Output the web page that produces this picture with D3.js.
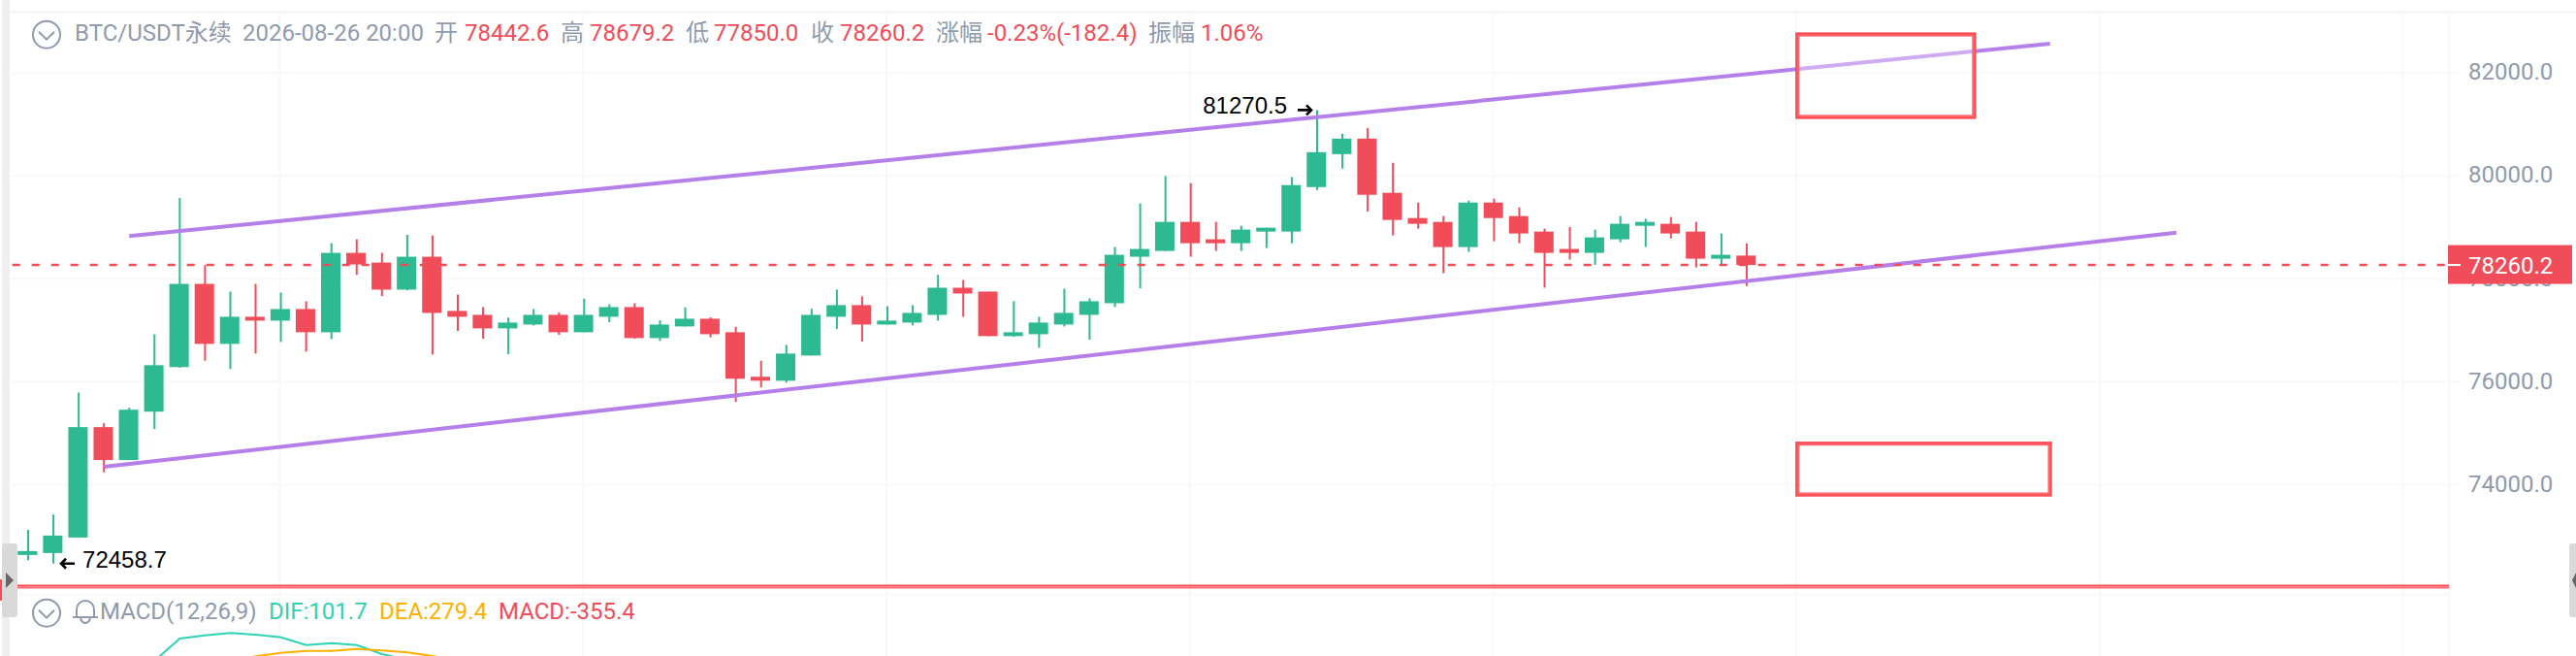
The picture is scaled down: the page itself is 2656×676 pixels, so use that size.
<!DOCTYPE html>
<html>
<head>
<meta charset="utf-8">
<title>BTC/USDT</title>
<script src="https://cdnjs.cloudflare.com/ajax/libs/d3/7.8.5/d3.min.js"></script>
<style>
  html, body { margin: 0; padding: 0; background: #fff; overflow: hidden; }
  text { font-family: Roboto, "Noto Sans CJK SC", sans-serif; font-size: 24px; }
</style>
</head>
<body>
<div id="chart"></div>
<script>
const opens = [72627,72664,72965,75110,74470,75410,76276,77893,76727,77254,77179,77404,76953,78495,78307,77781,78420,77367,77291,77028,77103,77291,76953,77254,77442,76840,77066,77216,76953,76088,76012,76501,77254,77480,77103,77141,77291,77818,77743,76878,76915,77103,77291,77517,78420,78533,79097,78759,78683,78909,78909,79774,80414,80715,79662,79172,79097,78608,79473,79210,78909,78571,78495,78759,79022,79060,78909,78382,78442.6];
const highs = [73116,73410,75780,75185,75486,76915,79561,78257,77743,77893,77724,77555,78683,78759,78495,78846,78834,77686,77442,77235,77404,77335,77605,77498,77517,77185,77436,77241,77060,76401,76708,77411,77781,77649,77461,77480,78069,77969,77743,77555,77254,77799,77611,78608,79455,79988,79850,79097,79022,78984,79969,81270.5,80809,80922,80245,79473,79210,79511,79549,79379,78966,78997,78947,79210,79160,79191,79097,78872,78679.2];
const lows = [72526,72458.7,72965,74232,74470,75072,76263,76401,76238,76539,76765,76577,76821,78069,77655,77768,76520,76978,76828,76527,77085,76903,76953,77147,76828,76784,77066,76853,75599,75881,75975,76501,77016,76771,77103,77085,77179,77254,76878,76865,76652,77066,76809,77442,77806,78533,78420,78533,78533,78589,78683,79718,80132,79298,78834,78966,78100,78514,78721,78683,77818,78364,78263,78702,78608,78777,78213,78263,77850];
const closes = [72702,73003,75110,74470,75448,76313,77893,76727,77254,77179,77404,76953,78495,78270,77781,78420,77329,77254,77028,77141,77291,76953,77291,77442,76840,77103,77216,76915,76050,76012,76539,77291,77480,77103,77179,77329,77818,77705,76878,76953,77141,77329,77555,78458,78571,79097,78683,78683,78947,78984,79812,80452,80715,79624,79135,79060,78608,79473,79172,78872,78495,78495,78796,79060,79097,78872,78382,78458,78260.2];

const priceTicks = [74000, 76000, 78000, 80000, 82000];
const timeGrid = [10, 22, 34, 46, 58, 70, 82, 94];
const lastPrice = 78260.2;
const supportPrice = 72012;

// trend lines and boxes, as [candle index, price]
const upperLine = [[4, 78820], [80, 82559]];
const lowerLine = [[3, 74338], [85, 78890]];
const boxA = [[70, 82741], [77, 81134]];
const boxB = [[70, 74790], [80, 73798]];

// MACD pane
const difStart = 5;
const difValues = [380, 840, 906, 954, 920, 866, 706, 746, 706, 520, 400];
const deaStart = 8;
const deaValues = [360, 474, 546, 586, 586, 626, 594, 554, 480, 380];

const headerText = ["BTC/USDT永续", "2026-08-26 20:00", "开", "78442.6", "高", "78679.2", "低", "77850.0", "收", "78260.2", "涨幅", "-0.23%(-182.4)", "振幅", "1.06%"];
const macdText = ["MACD(12,26,9)", "DIF:101.7", "DEA:279.4", "MACD:-355.4"];

const width = 2656, height = 676;
const green = "#2dba92", red = "#f04c59", grey = "#8f9bac", gridColor = "#f7f8f9", purple = "#b57fea";
const axisX = 2525;

const x = d3.scaleLinear().domain([0, 68]).range([29, 1801]);
const y = d3.scaleLinear().domain([74000, 82000]).range([499, 74.7]);
const yMacd = d3.scaleLinear().domain([0, 2000]).range([700, 600]);

const svg = d3.select("#chart").append("svg")
  .attr("width", width)
  .attr("height", height)
  .style("display", "block");

// grid
const timeAxis = d3.axisBottom(x).tickValues(timeGrid).tickSize(-662).tickFormat("");
svg.append("g")
  .attr("transform", `translate(-1.5,${height})`)
  .call(timeAxis)
  .call(g => g.select(".domain").remove())
  .selectAll("line").attr("stroke", gridColor).attr("stroke-width", 2);

const priceAxis = d3.axisRight(y).tickValues(priceTicks).tickSize(-2524).tickPadding(9).tickFormat(d3.format(".1f"));
svg.append("g")
  .attr("transform", "translate(2536,0)")
  .call(priceAxis)
  .call(g => g.select(".domain").remove())
  .call(g => g.selectAll("line").attr("stroke", gridColor).attr("stroke-width", 2))
  .call(g => g.selectAll("text").attr("fill", grey).style("font-size", "24px").attr("dy", "0.3em"));

svg.append("line").attr("x1", 10).attr("x2", width).attr("y1", 12.5).attr("y2", 12.5).attr("stroke", "#f2f2f2").attr("stroke-width", 2);
svg.append("line").attr("x1", 10).attr("x2", axisX).attr("y1", 612.5).attr("y2", 612.5).attr("stroke", gridColor).attr("stroke-width", 2);
svg.append("line").attr("x1", axisX).attr("x2", axisX).attr("y1", 14).attr("y2", height).attr("stroke", gridColor).attr("stroke-width", 2);
svg.append("rect").attr("x", 2).attr("y", 0).attr("width", 8).attr("height", height).attr("fill", "#efefef");

// candles
const candles = d3.range(opens.length);
const candle = svg.selectAll(".candle").data(candles).enter().append("g").attr("class", "candle");
const candleColor = i => closes[i] >= opens[i] ? green : red;

candle.append("line")
  .attr("x1", i => x(i)).attr("x2", i => x(i))
  .attr("y1", i => y(highs[i])).attr("y2", i => y(lows[i]))
  .attr("stroke", candleColor)
  .attr("stroke-width", 2);

candle.append("rect")
  .attr("x", i => x(i) - 10.7)
  .attr("width", 20)
  .attr("y", i => y(Math.max(opens[i], closes[i])))
  .attr("height", i => Math.max(4, Math.abs(y(opens[i]) - y(closes[i]))))
  .attr("fill", candleColor);

// trend lines
const pen = d3.line().x(d => x(d[0])).y(d => y(d[1]));
[upperLine, lowerLine].forEach(l => {
  svg.append("path").attr("d", pen(l)).attr("fill", "none").attr("stroke", purple).attr("stroke-width", 4);
});

// boxes: translucent white fill, dark outer edge, lighter inner edge
[boxA, boxB].forEach(b => {
  const bx = x(b[0][0]), by = y(b[0][1]), bw = x(b[1][0]) - bx, bh = y(b[1][1]) - by;
  svg.append("rect").attr("x", bx).attr("y", by).attr("width", bw).attr("height", bh)
    .attr("fill", "rgba(255,255,255,0.35)").attr("stroke", "#ff4a52").attr("stroke-width", 4);
  svg.append("rect").attr("x", bx + 1).attr("y", by + 1).attr("width", bw - 2).attr("height", bh - 2)
    .attr("fill", "none").attr("stroke", "#ff666e").attr("stroke-width", 2);
});

// support line
svg.append("line").attr("x1", 18).attr("x2", axisX).attr("y1", y(supportPrice) - 1).attr("y2", y(supportPrice) - 1).attr("stroke", "#ff4a52").attr("stroke-width", 2);
svg.append("line").attr("x1", 18).attr("x2", axisX).attr("y1", y(supportPrice) + 1).attr("y2", y(supportPrice) + 1).attr("stroke", "#ff6a72").attr("stroke-width", 2);

// last price
svg.append("line").attr("x1", 12.7).attr("x2", axisX).attr("y1", y(lastPrice)).attr("y2", y(lastPrice))
  .attr("stroke", red).attr("stroke-width", 2.4).attr("stroke-dasharray", "8 12");
svg.append("rect").attr("x", axisX - 1).attr("y", y(lastPrice) - 20.5).attr("width", 128).attr("height", 40).attr("fill", red);
svg.append("line").attr("x1", axisX - 1).attr("x2", 2537).attr("y1", y(lastPrice)).attr("y2", y(lastPrice)).attr("stroke", "#fff").attr("stroke-width", 2);
svg.append("text").attr("x", 2545).attr("y", y(lastPrice)).attr("dy", "0.36em").attr("fill", "#fff").text(d3.format(".1f")(lastPrice));

// high and low marks
const arrow = (x1, x2, yy) => {
  const dir = x2 > x1 ? -1 : 1;
  svg.append("path")
    .attr("d", `M${x1},${yy}L${x2},${yy}M${x2 + dir * 5},${yy - 5}L${x2},${yy}L${x2 + dir * 5},${yy + 5}`)
    .attr("fill", "none").attr("stroke", "#000").attr("stroke-width", 2.6);
};
const lowIdx = d3.leastIndex(lows), highIdx = d3.greatestIndex(highs);
arrow(x(lowIdx) + 22, x(lowIdx) + 8, y(lows[lowIdx]));
arrow(x(highIdx) - 20, x(highIdx) - 6, y(highs[highIdx]));
svg.append("text").attr("x", x(lowIdx) + 30).attr("y", y(lows[lowIdx]) + 4).attr("fill", "#000")
  .style("font-family", "'Liberation Sans'").text(lows[lowIdx]);
svg.append("text").attr("x", x(highIdx) - 31).attr("y", y(highs[highIdx]) + 4).attr("text-anchor", "end").attr("fill", "#000")
  .style("font-family", "'Liberation Sans'").text(highs[highIdx]);

// MACD lines
const macdPen = start => d3.line().x((d, i) => x(start + i)).y(d => yMacd(d));
svg.append("path").attr("d", macdPen(difStart)(difValues)).attr("fill", "none").attr("stroke", "#2ed3b3").attr("stroke-width", 2);
svg.append("path").attr("d", macdPen(deaStart)(deaValues)).attr("fill", "none").attr("stroke", "#ffb000").attr("stroke-width", 2);

// header
const headerX = [77, 250, 448, 479, 578, 608, 707, 736, 836, 866, 965, 1018, 1184, 1238];
svg.append("g").selectAll("text").data(headerText).enter().append("text")
  .attr("x", (d, i) => headerX[i])
  .attr("y", 42)
  .attr("fill", (d, i) => i > 1 && i % 2 == 1 ? red : grey)
  .text(d => d);

const macdX = [103, 277, 391, 514];
const macdColors = [grey, "#2ed3b3", "#ffb000", red];
svg.append("g").selectAll("text").data(macdText).enter().append("text")
  .attr("x", (d, i) => macdX[i])
  .attr("y", 638)
  .attr("fill", (d, i) => macdColors[i])
  .text(d => d);

// little icons
[[48, 35.7], [48, 631.7]].forEach(c => {
  svg.append("circle").attr("cx", c[0]).attr("cy", c[1]).attr("r", 14).attr("fill", "none").attr("stroke", grey).attr("stroke-width", 2);
  svg.append("path").attr("d", `M${c[0] - 8},${c[1] - 3}L${c[0]},${c[1] + 5}L${c[0] + 8},${c[1] - 3}`).attr("fill", "none").attr("stroke", grey).attr("stroke-width", 2);
});
svg.append("path")
  .attr("d", "M75,636H101M79,636V628a9,9 0 0 1 18,0V636M83,636a5,6 0 0 0 10,0")
  .attr("fill", "none").attr("stroke", grey).attr("stroke-width", 2);

// side handles
svg.append("rect").attr("x", 0).attr("y", 597).attr("width", 4).attr("height", 22).attr("fill", red);
svg.append("rect").attr("x", 2).attr("y", 560).attr("width", 16).attr("height", 76).attr("rx", 3).attr("fill", "#d9d9d9");
svg.append("path").attr("d", "M6,590L14,598L6,606Z").attr("fill", "#666");
svg.append("rect").attr("x", 2649).attr("y", 560).attr("width", 12).attr("height", 76).attr("rx", 3).attr("fill", "#d9d9d9");
svg.append("path").attr("d", "M2656,590L2652,598L2656,606Z").attr("fill", "#666");
</script>
</body>
</html>
